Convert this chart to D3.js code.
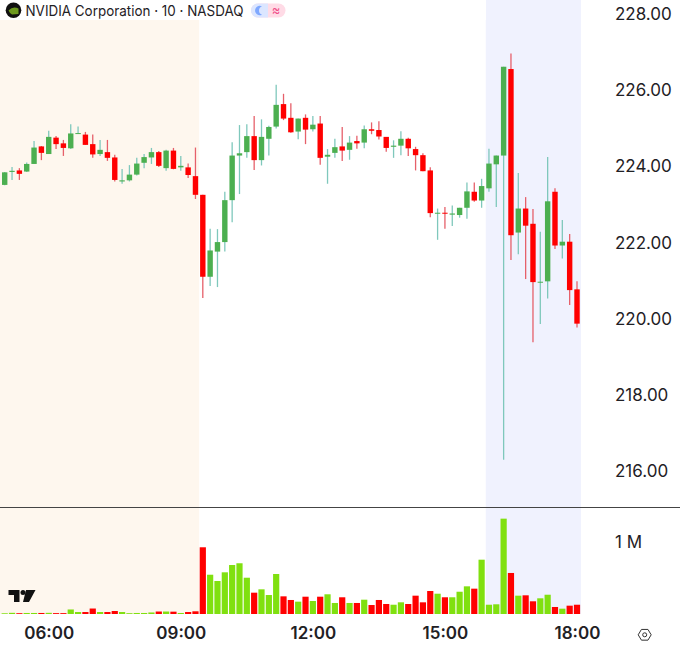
<!DOCTYPE html>
<html><head><meta charset="utf-8">
<script src="https://cdn.jsdelivr.net/npm/d3@7"></script>
<style>html,body{margin:0;padding:0;background:#fff}svg{display:block}
text{font-family:Inter,"Noto Sans",sans-serif;fill:#1f2125}</style></head><body>
<svg id="c" width="680" height="646"></svg>
<script>
const title = "NVIDIA Corporation · 10 · NASDAQ";
const open = [223.49,223.83,223.87,223.84,224.04,224.50,224.30,224.73,224.58,224.45,224.83,224.81,224.56,224.30,224.35,224.21,223.58,223.61,223.76,224.07,224.21,224.35,223.93,224.39,223.95,223.95,223.72,223.23,221.08,221.74,221.99,223.09,224.26,224.35,224.77,224.14,224.70,225.02,225.61,225.25,224.89,225.25,224.95,225.10,224.23,224.33,224.50,224.41,224.64,224.60,224.95,224.93,224.75,224.49,224.52,224.70,224.43,224.27,223.87,222.74,222.76,222.71,222.70,222.89,223.31,223.08,223.40,224.03,224.26,226.53,222.24,222.87,222.47,220.93,220.96,223.31,221.90,222.00,220.75];
const high = [223.83,223.96,223.93,224.08,224.64,224.51,224.91,224.77,224.67,225.08,225.02,224.88,224.81,224.67,224.67,224.28,223.91,224.01,224.20,224.30,224.46,224.38,224.41,224.46,224.25,224.05,224.47,223.23,222.34,222.33,223.31,224.61,225.06,225.08,225.30,225.21,225.04,226.12,225.88,225.63,225.23,225.34,225.30,225.30,224.43,224.70,225.01,224.77,224.78,225.05,225.13,225.16,224.75,224.66,224.90,224.73,224.49,224.32,223.95,222.87,222.91,222.95,222.89,223.55,223.55,223.65,224.44,224.26,226.59,226.94,223.80,223.17,222.86,222.26,224.22,223.40,222.57,222.20,220.96];
const low = [223.48,223.62,223.62,223.83,224.04,224.14,224.30,224.43,224.25,224.43,224.83,224.54,224.20,224.25,224.12,223.58,223.52,223.58,223.74,223.93,224.04,223.96,223.86,223.90,223.86,223.67,223.12,220.52,220.84,220.81,221.74,222.51,223.25,224.20,223.88,224.00,224.26,224.97,225.19,224.86,224.69,224.56,224.89,224.02,223.52,224.20,224.12,224.15,224.44,224.45,224.82,224.68,224.36,224.20,224.27,224.25,223.87,223.85,222.64,222.05,222.34,222.41,222.63,222.60,223.05,222.89,223.31,222.91,216.28,221.52,221.67,221.02,219.36,219.84,220.51,221.81,221.56,220.34,219.75];
const close = [223.82,223.86,223.78,224.04,224.47,224.33,224.75,224.56,224.46,224.84,224.85,224.54,224.29,224.41,224.20,223.62,223.61,223.76,224.05,224.22,224.35,223.99,224.39,223.91,223.99,223.75,223.23,221.08,221.77,221.99,223.09,224.26,224.32,224.77,224.14,224.75,225.01,225.59,225.23,224.87,225.23,224.94,225.07,224.20,224.28,224.48,224.39,224.60,224.58,224.95,224.91,224.76,224.46,224.52,224.70,224.45,224.27,223.85,222.75,222.76,222.74,222.74,222.89,223.32,223.08,223.46,224.05,224.26,226.59,222.17,222.87,222.42,220.94,220.95,223.06,221.90,222.00,220.73,219.85];
const volume = [10,16,11,14,14,14,16,12,12,62,27,27,75,27,27,41,27,11,14,14,21,34,34,32,14,27,37,914,538,452,571,671,695,497,292,338,260,548,242,192,169,237,178,237,270,151,229,151,151,196,123,192,137,127,160,137,251,160,315,278,229,229,305,379,347,744,127,133,1306,562,251,256,174,215,264,96,73,114,127];
const priceTicks = [216,218,220,222,224,226,228];
const volumeTicks = [1000];
const timeTicks = [6,9,12,15,18];
const firstHour = 5, barHours = 1/6;
const preEndHour = 9.5, postStartHour = 16;

const W=680, plotRight=581, sep=507.5, volBase=614;
const hourOf = i => firstHour + i*barHours;
const x = d3.scaleLinear().domain([firstHour, 18]).range([4.7, 577]);
const y = d3.scaleLinear().domain([216,228]).range([470.4,13]);
const yv = d3.scaleLinear().domain([0,1000]).range([volBase,541]);
const step = x(firstHour+barHours)-x(firstHour);
const svg = d3.select("#c");
const col = {up:"#4caf50", down:"#ff0000", upW:"#7fc8bc", downW:"#e6606a", upV:"#80e010", downV:"#ff0000"};

// session shading
svg.append("rect").attr("x",0).attr("y",20).attr("width",x(preEndHour)-step/2).attr("height",volBase-20).attr("fill","#fef7ee");
svg.append("rect").attr("x",x(postStartHour)-step/2+0.5).attr("y",0).attr("width",plotRight-x(postStartHour)+step/2-0.5).attr("height",volBase).attr("fill","#f0f2fe");

const idx = d3.range(open.length);
const g = svg.append("g");
g.selectAll("line.w").data(idx).join("line").attr("class","w")
 .attr("x1",i=>x(hourOf(i))).attr("x2",i=>x(hourOf(i)))
 .attr("y1",i=>y(high[i])).attr("y2",i=>y(low[i]))
 .attr("stroke",i=>close[i]>=open[i]?col.upW:col.downW).attr("stroke-width",1.3);
g.selectAll("rect.b").data(idx).join("rect").attr("class","b")
 .attr("x",i=>x(hourOf(i))-2.7).attr("width",5.4)
 .attr("y",i=>y(Math.max(open[i],close[i])))
 .attr("height",i=>Math.max(1,Math.abs(y(open[i])-y(close[i]))))
 .attr("fill",i=>close[i]>=open[i]?col.up:col.down);

g.selectAll("rect.v").data(idx).join("rect").attr("class","v")
 .attr("x",i=>x(hourOf(i))-3.1).attr("width",6.2)
 .attr("y",i=>yv(volume[i])).attr("height",i=>volBase-yv(volume[i]))
 .attr("fill",i=>close[i]>=open[i]?col.upV:col.downV);

svg.append("line").attr("x1",0).attr("x2",W).attr("y1",sep).attr("y2",sep).attr("stroke","#444").attr("stroke-width",1);

const styleAxis = s => { s.select(".domain").remove(); s.selectAll(".tick line").remove(); s.selectAll("text").attr("font-size",17).attr("fill","#1f2125"); };
svg.append("g").attr("transform",`translate(${plotRight},1)`)
 .call(d3.axisRight(y).tickValues(priceTicks).tickFormat(d3.format(".2f")).tickSize(0).tickPadding(34)).call(styleAxis);
svg.append("g").attr("transform",`translate(${plotRight},1)`)
 .call(d3.axisRight(yv).tickValues(volumeTicks).tickFormat(()=>"1 M").tickSize(0).tickPadding(34)).call(styleAxis);
const tg = svg.append("g").attr("transform","translate(0,633)")
 .call(d3.axisBottom(x).tickValues(timeTicks).tickFormat(h=>d3.format("02")(h)+":00").tickSize(0).tickPadding(0)).call(styleAxis);
tg.selectAll("text").attr("font-weight",600).attr("dy","0.35em").attr("y",0);

// header
svg.append("rect").attr("x",0).attr("y",0).attr("width",plotRight-95).attr("height",20).attr("fill","#fff");
svg.append("circle").attr("cx",13.5).attr("cy",10.3).attr("r",7.8).attr("fill","#111");
svg.append("path").attr("d","M8.5 10.5 Q13 5.5 18.5 8.5 L18.5 14 L12 14.5 Q9.5 13 8.5 10.5Z").attr("fill","#6d9a1f");
svg.append("text").attr("x",25.5).attr("y",16).attr("font-size",14.6).attr("textLength",218).attr("lengthAdjust","spacingAndGlyphs").text(title);
svg.append("rect").attr("x",251).attr("y",3.5).attr("width",34.5).attr("height",14).attr("rx",7).attr("fill","#ffdbe6");
svg.append("path").attr("d","M258 3.5H268V17.5H258A7 7 0 0 1 258 3.5Z").attr("fill","#dbe6ff");
svg.append("path").attr("d","M262 6.2a4.8 4.8 0 1 0 0 8.6a4.6 4.6 0 0 1 0-8.6Z").attr("fill","#7fa8ff");
svg.append("text").attr("x",276).attr("y",15).attr("font-size",13).attr("text-anchor","middle").style("fill","#f0508a").text("≈");

// TradingView mark
svg.append("path").attr("d","M8.5 590H19.5V602H14V595H8.5ZM26 590H35.5L29 602H23Z").attr("fill","#111");
svg.append("circle").attr("cx",23).attr("cy",592.5).attr("r",2.5).attr("fill","#111");

// settings hexagon
svg.append("path").attr("d",d3.line()(d3.range(6).map(k=>[644.7+6.5*Math.cos(k*Math.PI/3),634.8+6.2*Math.sin(k*Math.PI/3)]))+"Z").attr("fill","none").attr("stroke","#333").attr("stroke-width",1);
svg.append("circle").attr("cx",644.7).attr("cy",634.8).attr("r",2).attr("fill","none").attr("stroke","#333").attr("stroke-width",1);
</script></body></html>
